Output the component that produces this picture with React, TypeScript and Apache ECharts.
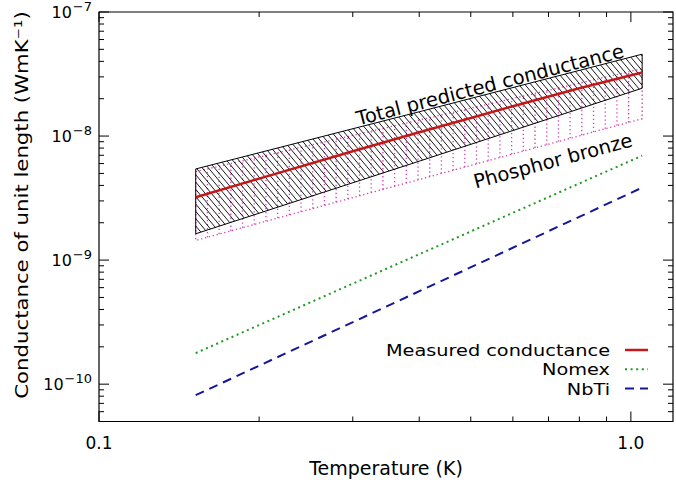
import React, { useEffect, useRef } from 'react';
import * as echarts from 'echarts';

const FONT = '"DejaVu Sans", sans-serif';

// ---- axes ----
const X_MIN = 0.1;
const X_MAX = 1.2;
const Y_MIN = 5e-11;
const Y_MAX = 1e-7;
const xMajorTicks = [0.1, 1.0];
const xMinorTicks = [0.2, 0.3, 0.4, 0.5, 0.6, 0.7, 0.8, 0.9];
const yMajorTicks = [1e-10, 1e-9, 1e-8, 1e-7];
const yMinorMantissas = [2, 3, 4, 5, 6, 7, 8, 9];
const yMinorDecades = [1e-11, 1e-10, 1e-9, 1e-8];

// ---- series (T in K, conductance in W m K^-1) ----
const measuredT = [0.152, 0.2, 0.3, 0.4, 0.5, 0.6, 0.8, 1.05];
const measuredG = [3.21e-9, 4.54e-9, 7.55e-9, 1.074e-8, 1.4e-8, 1.74e-8, 2.43e-8, 3.25e-8];

const nomexT = [0.152, 1.05];
const nomexG = [1.78e-10, 6.95e-9];

const nbtiT = [0.152, 1.05];
const nbtiG = [8.15e-11, 3.84e-9];

const totalT = [0.152, 0.4, 1.05];
const totalUpper = [5.43e-9, 1.57e-8, 4.57e-8];
const totalLower = [1.63e-9, 6.27e-9, 2.43e-8];

const bronzeT = [0.152, 1.05];
const bronzeUpper = [5.17e-9, 3.49e-8];
const bronzeLower = [1.44e-9, 1.38e-8];

const legendNames = ['Measured conductance', 'Nomex', 'NbTi'];

const RED = '#c41818';
const GREEN = '#1f9a1f';
const BLUE = '#16169a';
const PINK = '#d63fae';

const redStyle = { stroke: RED, lineWidth: 2.5, lineDash: null as any };
const greenStyle = { stroke: GREEN, lineWidth: 2, lineDash: [2, 3.6] };
const blueStyle = { stroke: BLUE, lineWidth: 2, lineDash: [9, 6] };
const legendStyles = [redStyle, greenStyle, blueStyle];

const HATCH_ANGLE = (50 * Math.PI) / 180;
const HATCH_STEP = 4.7;
const BRONZE_STEP = 11.7;

function interpY(pts: number[][], x: number) {
  for (let i = 0; i < pts.length - 1; i++) {
    const a = pts[i];
    const b = pts[i + 1];
    if (x >= a[0] && x <= b[0]) {
      const t = (x - a[0]) / (b[0] - a[0] || 1);
      return a[1] + t * (b[1] - a[1]);
    }
  }
  return pts[pts.length - 1][1];
}

function hatchSegments(poly: number[][], angle: number, step: number) {
  const d = [Math.cos(angle), Math.sin(angle)];
  const n = [-Math.sin(angle), Math.cos(angle)];
  const proj = poly.map((p) => n[0] * p[0] + n[1] * p[1]);
  const cMin = Math.min(...proj);
  const cMax = Math.max(...proj);
  const segs: number[][][] = [];
  for (let c = Math.ceil(cMin / step) * step; c <= cMax; c += step) {
    const pts: number[][] = [];
    for (let i = 0; i < poly.length; i++) {
      const a = poly[i];
      const b = poly[(i + 1) % poly.length];
      const fa = n[0] * a[0] + n[1] * a[1] - c;
      const fb = n[0] * b[0] + n[1] * b[1] - c;
      if ((fa < 0 && fb >= 0) || (fa >= 0 && fb < 0)) {
        const t = fa / (fa - fb);
        pts.push([a[0] + t * (b[0] - a[0]), a[1] + t * (b[1] - a[1])]);
      }
    }
    pts.sort((p, q) => p[0] * d[0] + p[1] * d[1] - (q[0] * d[0] + q[1] * d[1]));
    for (let i = 0; i + 1 < pts.length; i += 2) segs.push([pts[i], pts[i + 1]]);
  }
  return segs;
}

function renderBand(params: any, api: any) {
  if (params.dataIndex !== 0) return null;
  const up = totalT.map((t, i) => api.coord([t, totalUpper[i]]));
  const lo = totalT.map((t, i) => api.coord([t, totalLower[i]]));
  const poly = [...up, ...lo.slice().reverse()];
  const children: any[] = [];
  hatchSegments(poly, HATCH_ANGLE, HATCH_STEP).forEach((s) => {
    children.push({
      type: 'line',
      shape: { x1: s[0][0], y1: s[0][1], x2: s[1][0], y2: s[1][1] },
      style: { stroke: '#000', lineWidth: 0.9 },
    });
  });
  children.push({
    type: 'polygon',
    shape: { points: poly },
    style: { fill: 'none', stroke: '#000', lineWidth: 1 },
  });
  return { type: 'group', children };
}

function renderBronze(params: any, api: any) {
  if (params.dataIndex !== 0) return null;
  const up = bronzeT.map((t, i) => api.coord([t, bronzeUpper[i]]));
  const lo = bronzeT.map((t, i) => api.coord([t, bronzeLower[i]]));
  const style = { stroke: PINK, lineWidth: 1.3, lineDash: [1.3, 2.7], fill: 'none' };
  const children: any[] = [
    { type: 'polygon', shape: { points: [...up, ...lo.slice().reverse()] }, style },
  ];
  const xL = up[0][0];
  const xR = up[up.length - 1][0];
  for (let x = xL + BRONZE_STEP; x < xR - 2; x += BRONZE_STEP) {
    children.push({
      type: 'line',
      shape: { x1: x, y1: interpY(lo, x), x2: x, y2: interpY(up, x) },
      style,
    });
  }
  return { type: 'group', children };
}

function renderXTick(params: any, api: any) {
  const x = api.value(0);
  const len = api.value(2) === 1 ? 10 : 5;
  const b = api.coord([x, Y_MIN]);
  const t = api.coord([x, Y_MAX]);
  const style = { stroke: '#000', lineWidth: 1 };
  return {
    type: 'group',
    children: [
      { type: 'line', shape: { x1: b[0], y1: b[1], x2: b[0], y2: b[1] - len }, style },
      { type: 'line', shape: { x1: t[0], y1: t[1], x2: t[0], y2: t[1] + len }, style },
    ],
  };
}

function renderYTick(params: any, api: any) {
  const y = api.value(1);
  const len = api.value(2) === 1 ? 10 : 5;
  const l = api.coord([X_MIN, y]);
  const r = api.coord([X_MAX, y]);
  const style = { stroke: '#000', lineWidth: 1 };
  return {
    type: 'group',
    children: [
      { type: 'line', shape: { x1: l[0], y1: l[1], x2: l[0] + len, y2: l[1] }, style },
      { type: 'line', shape: { x1: r[0], y1: r[1], x2: r[0] - len, y2: r[1] }, style },
    ],
  };
}

function isDecade(v: number) {
  const l = Math.log10(v);
  return Math.abs(l - Math.round(l)) < 1e-6;
}

export default function App() {
  const ref = useRef<HTMLDivElement>(null);
  useEffect(() => {
    document.body.style.margin = '0';
    if (!ref.current) return;
    const chart = echarts.init(ref.current, undefined, { renderer: 'svg' });

    const yMinor: number[] = [];
    yMinorDecades.forEach((d) =>
      yMinorMantissas.forEach((m) => {
        const v = m * d;
        if (v > Y_MIN * 1.01 && v < Y_MAX) yMinor.push(v);
      })
    );
    const xTickData = [
      ...xMajorTicks.map((v) => [v, Y_MIN, 1]),
      ...xMinorTicks.map((v) => [v, Y_MIN, 0]),
    ];
    const yTickData = [
      ...yMajorTicks.map((v) => [X_MIN, v, 1]),
      ...yMinor.map((v) => [X_MIN, v, 0]),
    ];

    const lineSeries = (name: string, T: number[], G: number[], st: any) => ({
      type: 'line',
      name,
      data: T.map((t, i) => [t, G[i]]),
      symbol: 'none',
      showSymbol: false,
      lineStyle: { color: st.stroke, width: st.lineWidth, type: st.lineDash || 'solid' },
      itemStyle: { color: st.stroke },
      z: 4,
      silent: true,
    });

    // legend drawn as graphic rows (text right-aligned, line sample on the right)
    const legendGraphics: any[] = [];
    legendNames.forEach((name, i) => {
      const cy = 350 + i * 19.3;
      legendGraphics.push({
        type: 'text',
        x: 610,
        y: cy,
        scaleX: 1.17,
        style: {
          text: name,
          fontSize: 16.5,
          lineHeight: 17,
          fontFamily: FONT,
          fill: '#000',
          align: 'right',
          verticalAlign: 'middle',
        },
      });
      legendGraphics.push({
        type: 'line',
        shape: { x1: 625, y1: cy, x2: 648, y2: cy },
        style: { ...legendStyles[i] },
      });
    });

    const option: any = {
      animation: false,
      backgroundColor: '#fff',
      grid: {
        left: 99,
        top: 11,
        width: 579,
        height: 410.5,
        show: true,
        borderColor: '#000',
        borderWidth: 1.2,
        backgroundColor: 'transparent',
      },
      xAxis: {
        type: 'log',
        logBase: 10,
        min: X_MIN,
        max: X_MAX,
        axisLine: { show: false },
        axisTick: { show: false },
        splitLine: { show: false },
        minorTick: { show: false },
        axisLabel: {
          formatter: (v: number) => (isDecade(v) ? (v >= 1 ? v.toFixed(1) : String(v)) : ''),
          margin: 13,
          fontSize: 17,
          fontFamily: FONT,
          color: '#000',
        },
        name: 'Temperature (K)',
        nameLocation: 'middle',
        nameGap: 37,
        nameTextStyle: { fontSize: 19, fontFamily: FONT, color: '#000' },
      },
      yAxis: {
        type: 'log',
        logBase: 10,
        min: Y_MIN,
        max: Y_MAX,
        axisLine: { show: false },
        axisTick: { show: false },
        splitLine: { show: false },
        minorTick: { show: false },
        axisLabel: {
          formatter: (v: number) => {
            if (!isDecade(v)) return '';
            const e = Math.round(Math.log10(v));
            return `{b|10}{s|\u2212${-e}}`;
          },
          margin: 7,
          color: '#000',
          fontFamily: FONT,
          rich: {
            b: { fontSize: 16, fontFamily: FONT, color: '#000' },
            s: { fontSize: 13, fontFamily: FONT, color: '#000', padding: [0, 0, 11, 1] },
          },
        },
      },
      graphic: [
        {
          type: 'text',
          x: 22,
          y: 205,
          rotation: Math.PI / 2,
          scaleX: 1.18,
          style: {
            text: 'Conductance of unit length (WmK\u207b\u00b9)',
            fontSize: 18,
            fontFamily: FONT,
            fill: '#000',
            align: 'center',
            verticalAlign: 'middle',
          },
        },
        {
          type: 'text',
          x: 490,
          y: 85,
          rotation: (14.4 * Math.PI) / 180,
          style: {
            text: 'Total predicted conductance',
            fontSize: 19.5,
            fontFamily: FONT,
            fill: '#000',
            align: 'center',
            verticalAlign: 'middle',
          },
        },
        {
          type: 'text',
          x: 553,
          y: 161,
          rotation: (15 * Math.PI) / 180,
          style: {
            text: 'Phosphor bronze',
            fontSize: 19.5,
            fontFamily: FONT,
            fill: '#000',
            align: 'center',
            verticalAlign: 'middle',
          },
        },
        ...legendGraphics,
      ],
      series: [
        {
          type: 'custom',
          name: 'Phosphor bronze',
          coordinateSystem: 'cartesian2d',
          data: bronzeT.map((t, i) => [t, bronzeLower[i], bronzeUpper[i]]),
          renderItem: renderBronze,
          silent: true,
          clip: false,
          z: 2,
        },
        {
          type: 'custom',
          name: 'Total predicted conductance',
          coordinateSystem: 'cartesian2d',
          data: totalT.map((t, i) => [t, totalLower[i], totalUpper[i]]),
          renderItem: renderBand,
          silent: true,
          clip: false,
          z: 3,
        },
        lineSeries(legendNames[0], measuredT, measuredG, redStyle),
        lineSeries(legendNames[1], nomexT, nomexG, greenStyle),
        lineSeries(legendNames[2], nbtiT, nbtiG, blueStyle),
        {
          type: 'custom',
          name: 'xticks',
          coordinateSystem: 'cartesian2d',
          data: xTickData,
          renderItem: renderXTick,
          silent: true,
          clip: false,
          z: 6,
        },
        {
          type: 'custom',
          name: 'yticks',
          coordinateSystem: 'cartesian2d',
          data: yTickData,
          renderItem: renderYTick,
          silent: true,
          clip: false,
          z: 6,
        },
      ],
    };
    chart.setOption(option);
    return () => chart.dispose();
  }, []);
  return <div ref={ref} style={{ width: 676, height: 483 }} />;
}
